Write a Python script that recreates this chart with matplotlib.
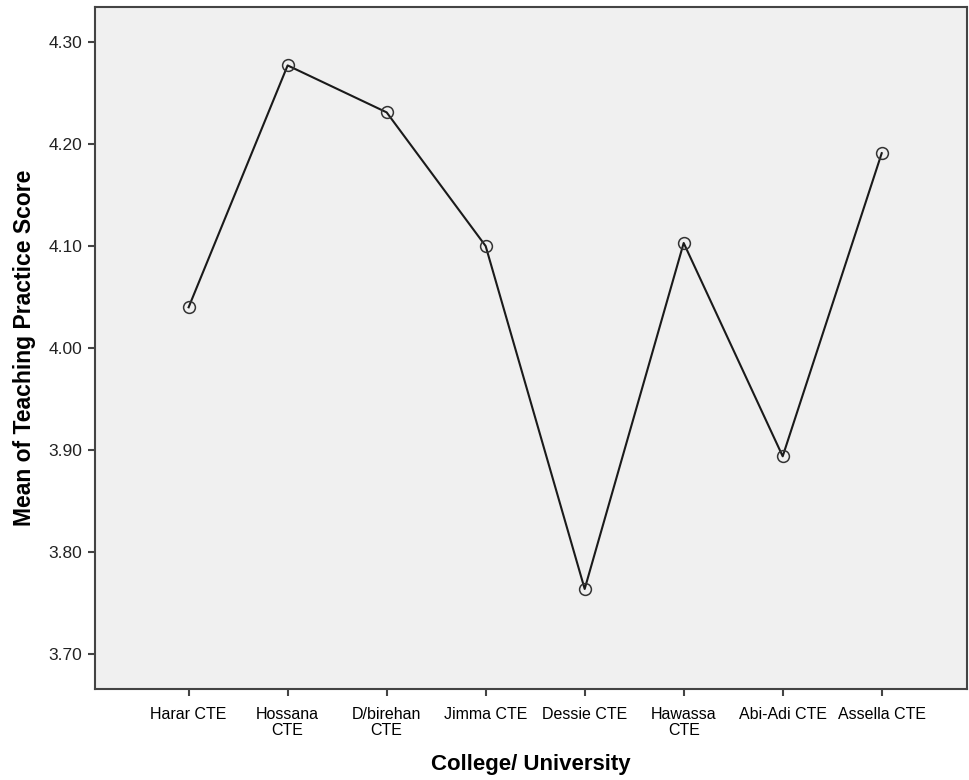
import matplotlib
matplotlib.use("Agg")
import matplotlib.pyplot as plt

colleges = ["Harar CTE", "Hossana\nCTE", "D/birehan\nCTE", "Jimma CTE",
            "Dessie CTE", "Hawassa\nCTE", "Abi-Adi CTE", "Assella CTE"]
mean_scores = [4.040, 4.277, 4.231, 4.100, 3.764, 4.103, 3.894, 4.191]
y_ticks = [3.70, 3.80, 3.90, 4.00, 4.10, 4.20, 4.30]

plt.rcParams['font.family'] = ['Liberation Sans', 'DejaVu Sans']

fig = plt.figure(figsize=(9.69, 7.8), dpi=100)
ax = fig.add_axes([0.098, 0.1167, 0.900, 0.874])
ax.set_facecolor('#f0f0f0')

x = list(range(len(colleges)))
ax.plot(x, mean_scores, color='#1a1a1a', linewidth=1.5,
        marker='o', markersize=8.5, markerfacecolor='none',
        markeredgecolor='#333333', markeredgewidth=1.1)

ax.set_xlim(-0.946, 7.862)
ax.set_ylim(3.666, 4.334)
ax.set_xticks(x)
ax.set_xticklabels(colleges, fontsize=11.5, linespacing=1.1)
ax.set_yticks(y_ticks)
ax.set_yticklabels([f"{v:.2f}" for v in y_ticks], fontsize=12.5, color='#222222')

for side in ['left', 'bottom', 'top', 'right']:
    ax.spines[side].set_color('#444444')
    ax.spines[side].set_linewidth(1.5)
ax.tick_params(axis='both', length=5, width=1.5, color='#444444', pad=4)
ax.tick_params(axis='x', pad=8)

ax.set_xlabel('College/ University', fontsize=16, fontweight='bold', labelpad=11)
ax.set_ylabel('Mean of Teaching Practice Score', fontsize=16.5, fontweight='bold', labelpad=9)

fig.savefig('out.png', dpi=100)
